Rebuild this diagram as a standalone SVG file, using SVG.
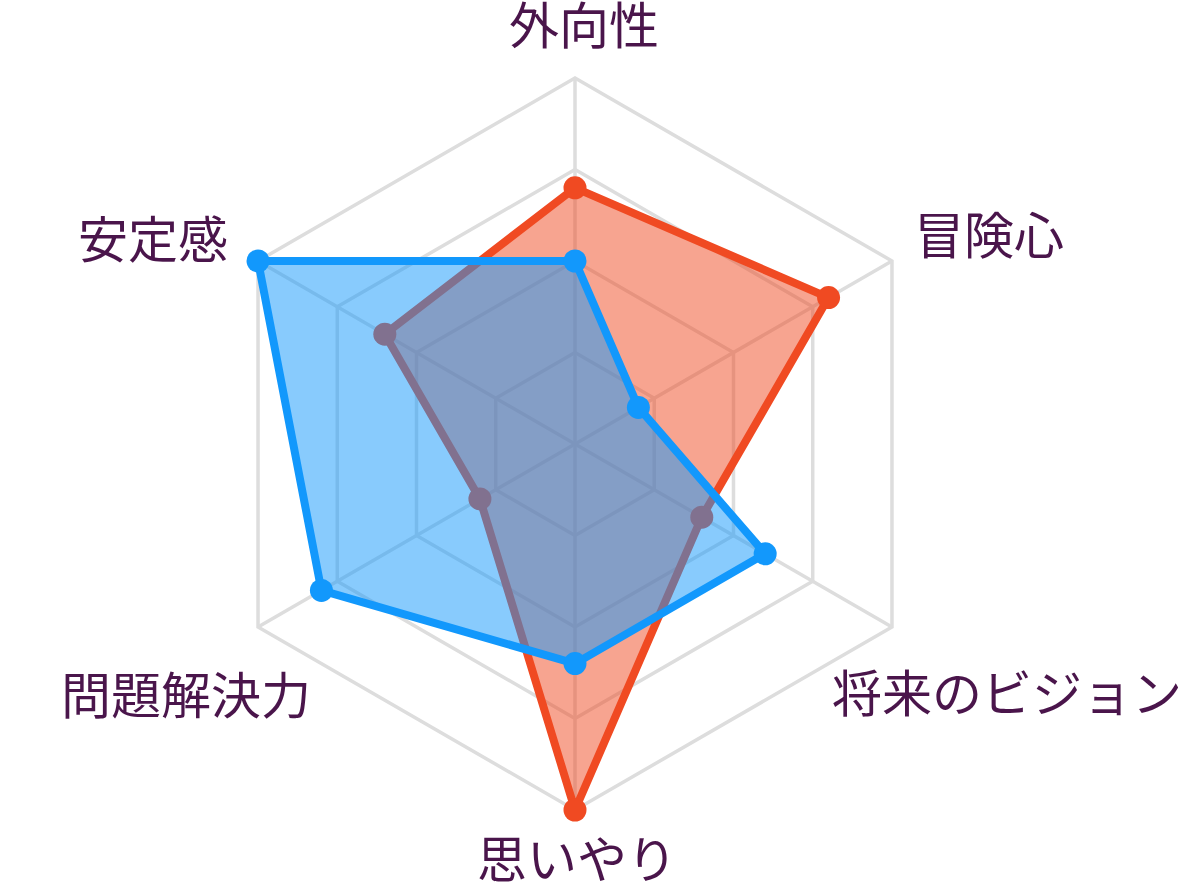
<svg xmlns="http://www.w3.org/2000/svg" width="1192" height="891" viewBox="0 0 1192 891">
<style>
.grid{fill:none;stroke:#dddddd;stroke-width:3.5;stroke-linejoin:miter}
.lbl{font-family:"Noto Sans CJK JP","Noto Sans CJK SC",sans-serif;font-size:50px;fill:#4a154b}
.orange-area{fill:#f04a22;fill-opacity:0.5;stroke:#f04a22;stroke-width:8;stroke-linejoin:round}
.orange-dot{fill:#f04a22}
.blue-area{fill:#1298fc;fill-opacity:0.5;stroke:#1298fc;stroke-width:8;stroke-linejoin:round}
.blue-dot{fill:#1298fc}
</style>
<rect width="1192" height="891" fill="#ffffff"/>
<g id="grid">
<polygon class="grid" points="575,352.5 654.24,398.25 654.24,489.75 575,535.5 495.76,489.75 495.76,398.25"/>
<polygon class="grid" points="575,261 733.48,352.5 733.48,535.5 575,627 416.52,535.5 416.52,352.5"/>
<polygon class="grid" points="575,169.5 812.73,306.75 812.73,581.25 575,718.5 337.27,581.25 337.27,306.75"/>
<polygon class="grid" points="575,78 891.97,261 891.97,627 575,810 258.03,627 258.03,261"/>
<g id="connectors">
<line class="grid" x1="575" y1="444" x2="575" y2="78"/>
<line class="grid" x1="575" y1="444" x2="891.97" y2="261"/>
<line class="grid" x1="575" y1="444" x2="891.97" y2="627"/>
<line class="grid" x1="575" y1="444" x2="575" y2="810"/>
<line class="grid" x1="575" y1="444" x2="258.03" y2="627"/>
<line class="grid" x1="575" y1="444" x2="258.03" y2="261"/>
</g>
</g>
<g id="series-orange">
<polygon class="orange-area" points="575,187.8 828.57,297.6 701.79,517.2 575,810 479.91,498.9 384.82,334.2"/>
<circle class="orange-dot" cx="575" cy="187.8" r="11.5"/>
<circle class="orange-dot" cx="828.57" cy="297.6" r="11.5"/>
<circle class="orange-dot" cx="701.79" cy="517.2" r="11.5"/>
<circle class="orange-dot" cx="575" cy="810" r="11.5"/>
<circle class="orange-dot" cx="479.91" cy="498.9" r="11.5"/>
<circle class="orange-dot" cx="384.82" cy="334.2" r="11.5"/>
</g>
<g id="series-blue">
<polygon class="blue-area" points="575,261 638.39,407.4 765.18,553.8 575,663.6 321.43,590.4 258.03,261"/>
<circle class="blue-dot" cx="575" cy="261" r="11.5"/>
<circle class="blue-dot" cx="638.39" cy="407.4" r="11.5"/>
<circle class="blue-dot" cx="765.18" cy="553.8" r="11.5"/>
<circle class="blue-dot" cx="575" cy="663.6" r="11.5"/>
<circle class="blue-dot" cx="321.43" cy="590.4" r="11.5"/>
<circle class="blue-dot" cx="258.03" cy="261" r="11.5"/>
</g>
<g id="label-top"><text class="lbl" x="584" y="44" text-anchor="middle">外向性</text></g>
<g id="label-ur"><text class="lbl" x="914" y="254" text-anchor="start">冒険心</text></g>
<g id="label-lr"><text class="lbl" x="832" y="712" text-anchor="start">将来のビジョン</text></g>
<g id="label-bottom"><text class="lbl" x="577" y="878" text-anchor="middle">思いやり</text></g>
<g id="label-ll"><text class="lbl" x="311" y="714" text-anchor="end">問題解決力</text></g>
<g id="label-ul"><text class="lbl" x="228" y="258" text-anchor="end">安定感</text></g>
</svg>
